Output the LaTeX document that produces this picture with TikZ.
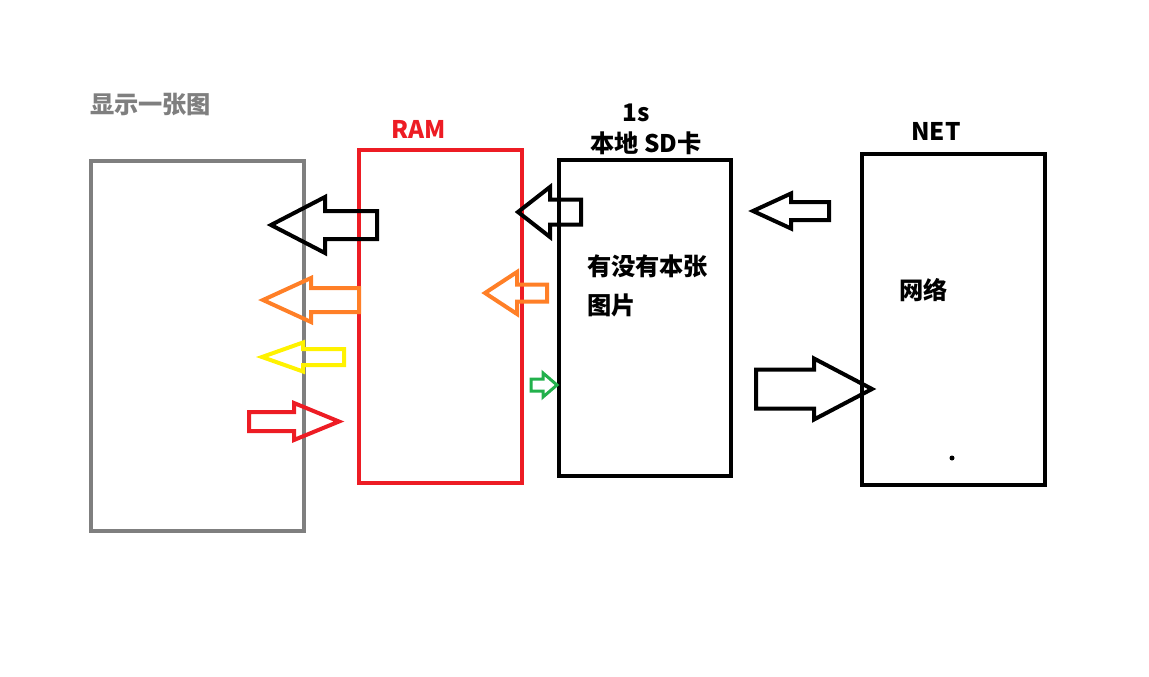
\documentclass[tikz,border=0pt]{standalone}
\usepackage{fontspec}
\setmainfont{Noto Sans CJK SC}
\usetikzlibrary{positioning}
\definecolor{cgrey}{HTML}{7F7F7F}
\definecolor{cred}{HTML}{ED1C24}
\definecolor{corange}{HTML}{FF7F27}
\definecolor{cyellow}{HTML}{FFF200}
\definecolor{cgreen}{HTML}{22B14C}
\tikzset{
  every picture/.style={line width=0.08cm},
  box/.style={draw=#1, line width=0.092cm, inner sep=0pt},
  box/.default=black,
  lbl/.style={font=\fontsize{13.8}{16}\selectfont\bfseries, inner sep=0pt},
  barrow/.style={draw=#1, line join=miter},
}
\begin{document}
\begin{tikzpicture}[x=0.02cm, y=-0.02cm]
  \useasboundingbox (0,0) rectangle (1149,676);
  % stages
  \node[box=cgrey, minimum width=4.26cm, minimum height=7.40cm] (disp) at (197.5,346) {};
  \node[box=cred, minimum width=3.26cm, minimum height=6.66cm] (ram) at (440.5,316.5) {};
  \node[box, minimum width=3.44cm, minimum height=6.32cm] (sd) at (645,318) {};
  \node[box, minimum width=3.66cm, minimum height=6.62cm] (net) at (953.5,319.5) {};
  % titles
  \node[lbl, text=cgrey, anchor=west] (tdisp) at (88,105) {显示一张图};
  \node[lbl, text=cred] (tram) at (419,129) {RAM};
  \node[lbl] (tsd) at (646,143) {本地 SD卡};
  \node[lbl] (ttime) at (636,113) {1s};
  \node[lbl] (tnet) at (936,131) {NET};
  % box texts
  \node[lbl, anchor=west] (ask) at (585,266) {有没有本张};
  \node[lbl, anchor=west] (ask2) at (585,305) {图片};
  \node[lbl, anchor=west] (tweb) at (897,290) {网络};
  \fill (952,458) circle (2.5);
  % block arrows: tip/y/head back/tail/shaft half/head half/colour/width
  \foreach \tip/\y/\hb/\tail/\sh/\hh/\c/\w in {
      271/225/325/377/14/28/black/4,
      263/300/311/359/12/22/corange/4,
      262/357/303/344/8/14.5/cyellow/4,
      339/421.5/294/249/9.5/18.5/cred/4,
      518/212/550/581/12.5/25/black/4,
      485/293/517/547/8.5/21/corange/4,
      557/385/543/531/6/12/cgreen/3,
      753/211/791/829/9/17.5/black/4,
      872/389/814/756/19.5/30.5/black/4}
    \draw[barrow=\c, line width=\w*0.02cm] (\tip,\y) -- (\hb,\y-\hh) -- (\hb,\y-\sh)
      -- (\tail,\y-\sh) -- (\tail,\y+\sh) -- (\hb,\y+\sh) -- (\hb,\y+\hh) -- cycle;
\end{tikzpicture}
\end{document}
